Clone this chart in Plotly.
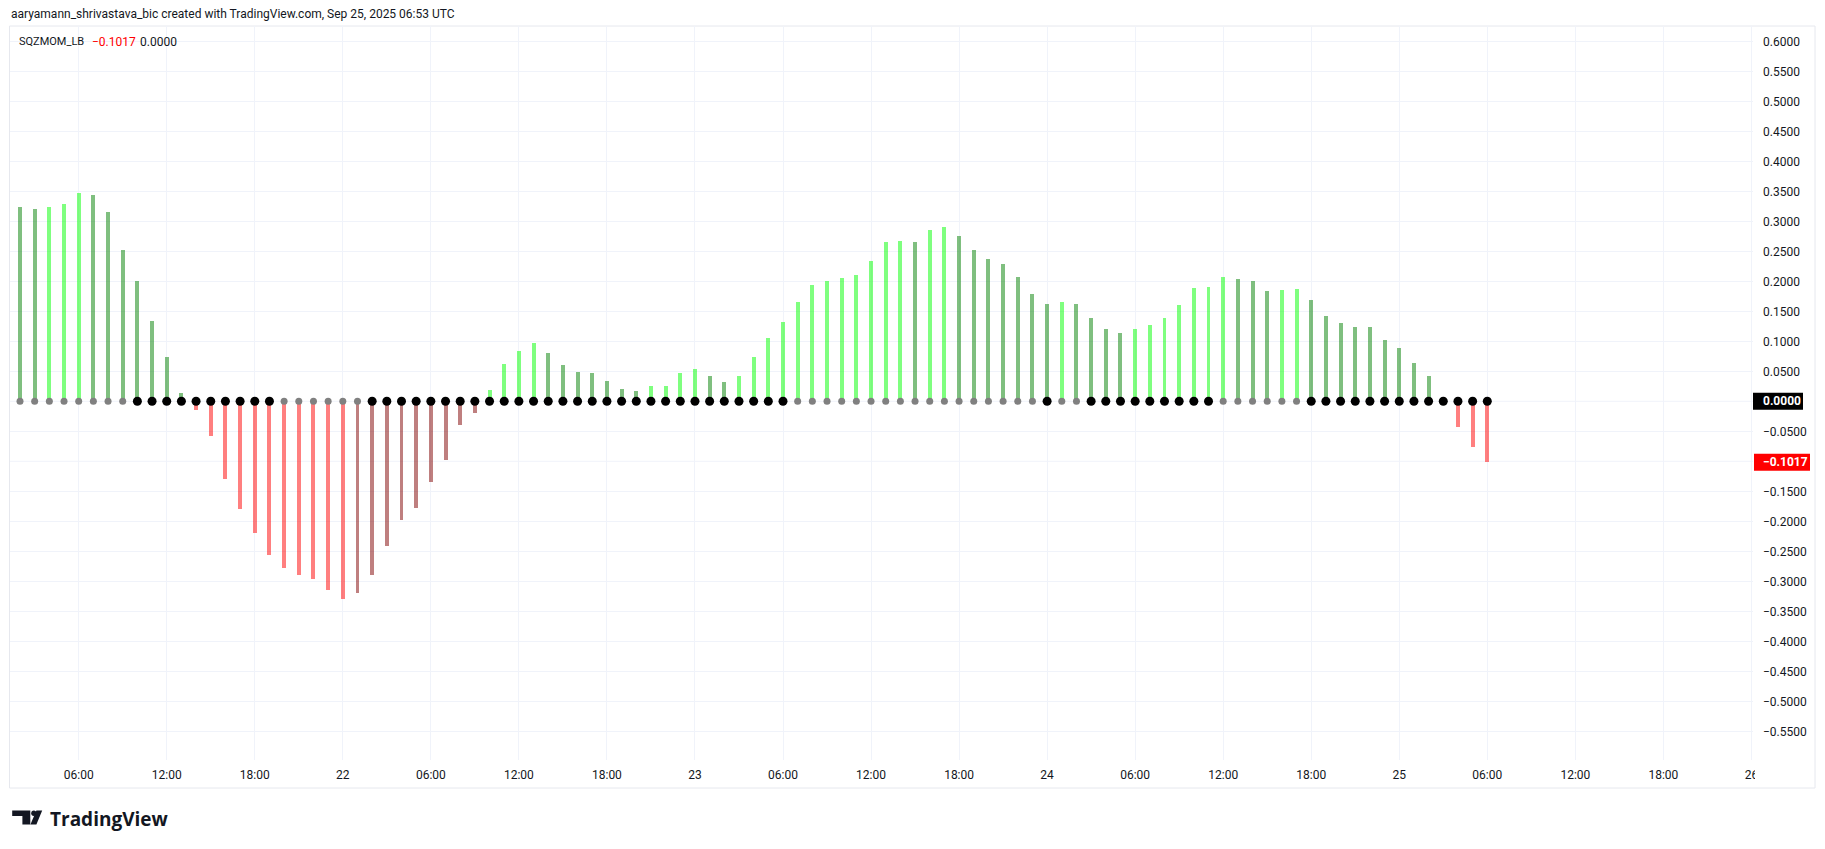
import plotly.graph_objects as go
import pandas as pd

# ---------------- data ----------------
start_time = "2025-09-21 02:00"          # first hourly bar
prev_momentum = 0.3260                    # value of the bar just before the visible window
momentum = [0.3239, 0.3206, 0.3239, 0.3289, 0.3472, 0.3439, 0.3156, 0.2522, 0.2006, 0.1339,
            0.0739, 0.0139, -0.0144, -0.0578, -0.1294, -0.1794, -0.2194, -0.2561, -0.2778, -0.2894,
            -0.2961, -0.3144, -0.3294, -0.3194, -0.2894, -0.2411, -0.1978, -0.1778, -0.1344, -0.0978,
            -0.0394, -0.0194, 0.0189, 0.0622, 0.0839, 0.0972, 0.0806, 0.0606, 0.0489, 0.0472,
            0.0339, 0.0206, 0.0172, 0.0256, 0.0258, 0.0472, 0.0539, 0.0422, 0.0322, 0.0422,
            0.0739, 0.1056, 0.1322, 0.1656, 0.1939, 0.2006, 0.2056, 0.2106, 0.2339, 0.2656,
            0.2672, 0.2656, 0.2856, 0.2906, 0.2756, 0.2522, 0.2372, 0.2289, 0.2072, 0.1789,
            0.1622, 0.1656, 0.1622, 0.1389, 0.1206, 0.1139, 0.1206, 0.1272, 0.1389, 0.1606,
            0.1889, 0.1906, 0.2072, 0.2039, 0.2006, 0.1839, 0.1856, 0.1872, 0.1689, 0.1422,
            0.1306, 0.1239, 0.1236, 0.1022, 0.0889, 0.0639, 0.0422, -0.0040, -0.0428, -0.0761,
            -0.1017]
# squeeze state per bar (1 = squeeze on -> black dot, 0 = off -> gray dot)
squeeze_on = [0, 0, 0, 0, 0, 0, 0, 0, 1, 1,
              1, 1, 1, 1, 1, 1, 1, 1, 0, 0,
              0, 0, 0, 0, 1, 1, 1, 1, 1, 1,
              1, 1, 1, 1, 1, 1, 1, 1, 1, 1,
              1, 1, 1, 1, 1, 1, 1, 1, 1, 1,
              1, 1, 1, 0, 0, 0, 0, 0, 0, 0,
              0, 0, 0, 0, 0, 0, 0, 0, 0, 0,
              1, 0, 0, 1, 1, 1, 1, 1, 1, 1,
              1, 1, 0, 0, 0, 0, 0, 0, 1, 1,
              1, 1, 1, 1, 1, 1, 1, 1, 1, 1,
              1]
x_tick_times = ["2025-09-21 06:00", "2025-09-21 12:00", "2025-09-21 18:00", "2025-09-22 00:00",
                "2025-09-22 06:00", "2025-09-22 12:00", "2025-09-22 18:00", "2025-09-23 00:00",
                "2025-09-23 06:00", "2025-09-23 12:00", "2025-09-23 18:00", "2025-09-24 00:00",
                "2025-09-24 06:00", "2025-09-24 12:00", "2025-09-24 18:00", "2025-09-25 00:00",
                "2025-09-25 06:00", "2025-09-25 12:00", "2025-09-25 18:00", "2025-09-26 00:00"]
x_tick_text = ["06:00", "12:00", "18:00", "22", "06:00", "12:00", "18:00", "23",
               "06:00", "12:00", "18:00", "24", "06:00", "12:00", "18:00", "25",
               "06:00", "12:00", "18:00", "26"]
y_tick_vals = [0.60, 0.55, 0.50, 0.45, 0.40, 0.35, 0.30, 0.25, 0.20, 0.15, 0.10, 0.05,
               -0.05, -0.15, -0.20, -0.25, -0.30, -0.35, -0.40, -0.45, -0.50, -0.55]
indicator_name = "SQZMOM_LB"
header_text = "aaryamann_shrivastava_bic created with TradingView.com, Sep 25, 2025 06:53 UTC"

# ---------------- derived ----------------
times = pd.date_range(start=start_time, periods=len(momentum), freq="h")
bar_colors = []
prev = prev_momentum
for v in momentum:
    if v > 0:
        bar_colors.append("rgba(0,255,0,0.5)" if v > prev else "rgba(0,128,0,0.5)")
    else:
        bar_colors.append("rgba(255,0,0,0.5)" if v < prev else "rgba(128,0,0,0.5)")
    prev = v
dot_colors = ["#000000" if s else "#808080" for s in squeeze_on]
dot_sizes = [9 if s else 7 for s in squeeze_on]
zeros = [0.0] * len(momentum)

def fmt(v):
    s = f"{abs(v):.4f}"
    return ("\u2212" + s) if v < 0 else s

# ---------------- geometry (pixels) ----------------
W, H = 1825, 849
PL, PR, PT, PB = 10, 1753, 26, 760       # pane edges
px_per_hour = 14.673
first_px = 20
zero_py = 401.3
px_per_unit = 600.0

t0 = pd.Timestamp(start_time)
x_left = t0 - pd.Timedelta(hours=(first_px - PL) / px_per_hour)
x_right = t0 + pd.Timedelta(hours=(PR - first_px) / px_per_hour)
y_top = (zero_py - PT) / px_per_unit
y_bot = (zero_py - PB) / px_per_unit

def pxx(px):
    return (px - PL) / (PR - PL)

def pxy(py):
    return (PB - py) / (PB - PT)

FONT = "Roboto, 'Liberation Sans', sans-serif"
TXT = "#131722"

fig = go.Figure()
fig.add_trace(go.Bar(x=times, y=momentum, marker=dict(color=bar_colors, line=dict(width=0)),
                     width=0.27 * 3600 * 1000, hoverinfo="x+y", showlegend=False))
fig.add_trace(go.Scatter(x=times, y=zeros, mode="markers",
                         marker=dict(color=dot_colors, size=dot_sizes, opacity=1, line=dict(width=0)),
                         hoverinfo="skip", showlegend=False))

fig.update_layout(
    width=W, height=H,
    margin=dict(l=PL, r=W - PR, t=PT, b=H - PB),
    paper_bgcolor="#ffffff", plot_bgcolor="#ffffff",
    font=dict(family=FONT, size=12, color=TXT),
    bargap=0,
    xaxis=dict(type="date", range=[x_left, x_right], tickvals=x_tick_times, ticktext=x_tick_text,
               showgrid=True, gridcolor="#f0f3fa", gridwidth=1, zeroline=False, showline=False,
               ticks="", tickfont=dict(family=FONT, size=12, color=TXT), ticklabelstandoff=6,
               fixedrange=True),
    yaxis=dict(side="right", range=[y_bot, y_top], tickvals=y_tick_vals,
               ticktext=[fmt(v) for v in y_tick_vals], showgrid=True, gridcolor="#f0f3fa",
               gridwidth=1, zeroline=False, showline=False, ticks="",
               tickfont=dict(family=FONT, size=12, color=TXT), ticklabelstandoff=9,
               fixedrange=True),
)

# extra horizontal gridlines hidden behind price labels (0 and -0.10)
for gv in [0.0, -0.10]:
    fig.add_shape(type="line", xref="paper", yref="y", x0=0, x1=1, y0=gv, y1=gv,
                  line=dict(color="#f0f3fa", width=1), layer="below")

# outer chart border
fig.add_shape(type="rect", xref="paper", yref="paper", x0=pxx(9.5), x1=pxx(1815), y0=pxy(788), y1=pxy(26),
              line=dict(color="#e6e8ee", width=1), fillcolor="rgba(0,0,0,0)", layer="below")
# clip the last time label at the pane edge
fig.add_shape(type="rect", xref="paper", yref="paper", x0=pxx(1755), x1=pxx(1813), y0=pxy(786), y1=pxy(762),
              line=dict(width=0), fillcolor="#ffffff", layer="above")

# price labels
last_val = momentum[-1]
box_h = 8.5 / px_per_unit
fig.add_shape(type="rect", xref="paper", yref="y", x0=pxx(1753), x1=pxx(1803), y0=-box_h, y1=box_h,
              line=dict(width=0), fillcolor="#000000", layer="above")
fig.add_shape(type="rect", xref="paper", yref="y", x0=pxx(1754), x1=pxx(1810),
              y0=last_val - box_h, y1=last_val + box_h,
              line=dict(width=0), fillcolor="#ff0000", layer="above")
fig.add_annotation(xref="paper", yref="y", x=pxx(1761), y=0, text="<b>" + fmt(0.0) + "</b>",
                   showarrow=False, xanchor="left", yanchor="middle",
                   font=dict(family=FONT, size=12, color="#ffffff"))
fig.add_annotation(xref="paper", yref="y", x=pxx(1761), y=last_val, text="<b>" + fmt(last_val) + "</b>",
                   showarrow=False, xanchor="left", yanchor="middle",
                   font=dict(family=FONT, size=12, color="#ffffff"))

# header & legend
fig.add_annotation(xref="paper", yref="paper", x=pxx(9), y=pxy(14), text=header_text, showarrow=False,
                   xanchor="left", yanchor="middle", font=dict(family=FONT, size=12, color=TXT))
fig.add_annotation(xref="paper", yref="paper", x=pxx(17), y=pxy(42), text=indicator_name,
                   showarrow=False, xanchor="left", yanchor="middle",
                   font=dict(family=FONT, size=11, color=TXT))
fig.add_annotation(xref="paper", yref="paper", x=pxx(89.5), y=pxy(42), text=fmt(last_val),
                   showarrow=False, xanchor="left", yanchor="middle",
                   font=dict(family=FONT, size=12, color="#ff0000"))
fig.add_annotation(xref="paper", yref="paper", x=pxx(138), y=pxy(42), text=fmt(0.0),
                   showarrow=False, xanchor="left", yanchor="middle",
                   font=dict(family=FONT, size=12, color=TXT))

# TradingView logo
fig.add_shape(type="path", xref="paper", yref="paper",
              path=(f"M {pxx(12.2)},{pxy(810.5)} L {pxx(30.3)},{pxy(810.5)} L {pxx(30.3)},{pxy(824.5)} "
                    f"L {pxx(22.4)},{pxy(824.5)} L {pxx(22.4)},{pxy(816)} L {pxx(12.2)},{pxy(816)} Z"),
              fillcolor="#131722", line=dict(width=0))
fig.add_shape(type="circle", xref="paper", yref="paper", x0=pxx(31.2), x1=pxx(36.4),
              y0=pxy(816), y1=pxy(810.6),
              fillcolor="#131722", line=dict(width=0))
fig.add_shape(type="path", xref="paper", yref="paper",
              path=(f"M {pxx(36.4)},{pxy(810.5)} L {pxx(42.2)},{pxy(810.5)} L {pxx(36.4)},{pxy(824.5)} "
                    f"L {pxx(30.4)},{pxy(824.5)} Z"),
              fillcolor="#131722", line=dict(width=0))
fig.add_annotation(xref="paper", yref="paper", x=pxx(48), y=pxy(818.5), text="<b>TradingView</b>",
                   showarrow=False, xanchor="left", yanchor="middle",
                   font=dict(family="'Open Sans', Roboto, sans-serif", size=19, color="#131722"))

fig.write_html("out.html", config={"displayModeBar": False},
               post_script="document.body.style.margin='0';document.body.style.padding='0';")
